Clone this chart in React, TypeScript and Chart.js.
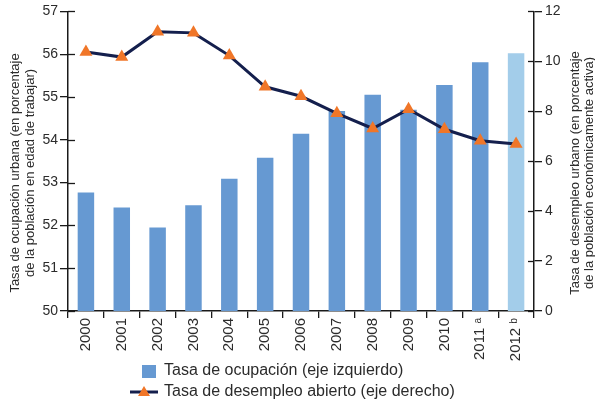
import React, { useEffect, useRef } from "react";
import { Chart, registerables } from "chart.js";

Chart.register(...registerables);

const categories = ["2000", "2001", "2002", "2003", "2004", "2005", "2006", "2007", "2008", "2009", "2010", "2011 ᵃ", "2012 ᵇ"];
const occupationRate = [52.77, 52.42, 51.95, 52.47, 53.09, 53.58, 54.14, 54.67, 55.05, 54.7, 55.28, 55.81, 56.02];
const unemploymentRate = [10.37, 10.17, 11.18, 11.14, 10.23, 8.98, 8.6, 7.92, 7.31, 8.08, 7.28, 6.82, 6.69];

const leftTicks = [50, 51, 52, 53, 54, 55, 56, 57];
const rightTicks = [0, 2, 4, 6, 8, 10, 12];

const seriesLabels = ["Tasa de ocupación (eje izquierdo)", "Tasa de desempleo abierto (eje derecho)"];
const leftTitle = ["Tasa de ocupación urbana (en porcentaje", "de la población en edad de trabajar)"];
const rightTitle = ["Tasa de desempleo urbano (en porcentaje", "de la población económicamente activa)"];

const FONT = "'Liberation Sans', Arial, sans-serif";
const BAR = "#6699d2";
const BAR_LIGHT = "#a3cdea";
const LINE = "#141f4d";
const MARK = "#f07628";
const AXIS = "#1a1a1a";
const TEXT = "#2b2b2b";

const extras = {
  id: "extras",
  afterDraw(chart: any) {
    const ctx = chart.ctx;
    const yL = chart.scales.yL;
    const yR = chart.scales.yR;
    ctx.save();
    ctx.strokeStyle = AXIS;
    ctx.lineWidth = 1.3;
    leftTicks.forEach((v) => {
      const y = Math.round(yL.getPixelForValue(v)) + 0.5;
      ctx.beginPath();
      ctx.moveTo(yL.right, y);
      ctx.lineTo(yL.right + 7, y);
      ctx.stroke();
    });
    rightTicks.forEach((v) => {
      const y = Math.round(yR.getPixelForValue(v)) + 0.5;
      ctx.beginPath();
      ctx.moveTo(yR.left - 6, y);
      ctx.lineTo(yR.left, y);
      ctx.stroke();
    });
    // axis titles
    ctx.fillStyle = TEXT;
    ctx.font = `13px ${FONT}`;
    ctx.textAlign = "center";
    ctx.textBaseline = "middle";
    const cy = 173;
    const drawTitle = (lines: string[], xs: number[]) => {
      lines.forEach((t, i) => {
        ctx.save();
        ctx.translate(xs[i], cy);
        ctx.rotate(-Math.PI / 2);
        ctx.fillText(t, 0, 0);
        ctx.restore();
      });
    };
    drawTitle(leftTitle, [15, 30]);
    drawTitle(rightTitle, [575, 589]);
    // legend
    ctx.font = `16px ${FONT}`;
    ctx.textAlign = "left";
    ctx.fillStyle = BAR;
    ctx.fillRect(142, 365, 14, 13);
    ctx.fillStyle = TEXT;
    ctx.fillText(seriesLabels[0], 164, 371);
    ctx.strokeStyle = LINE;
    ctx.lineWidth = 3;
    ctx.beginPath();
    ctx.moveTo(130, 392);
    ctx.lineTo(158, 392);
    ctx.stroke();
    ctx.fillStyle = MARK;
    ctx.beginPath();
    ctx.moveTo(144, 386);
    ctx.lineTo(150, 396);
    ctx.lineTo(138, 396);
    ctx.closePath();
    ctx.fill();
    ctx.fillStyle = TEXT;
    ctx.fillText(seriesLabels[1], 164, 392);
    ctx.restore();
  },
};

export default function App() {
  const ref = useRef<HTMLCanvasElement>(null);
  useEffect(() => {
    if (!ref.current) return;
    const chart = new Chart(ref.current, {
      type: "bar",
      data: {
        labels: categories,
        datasets: [
          {
            type: "line",
            label: seriesLabels[1],
            data: unemploymentRate,
            yAxisID: "yR",
            borderColor: LINE,
            borderWidth: 3,
            pointStyle: "triangle",
            pointRadius: 7.5,
            pointBackgroundColor: MARK,
            pointBorderColor: MARK,
            pointBorderWidth: 0,
            tension: 0,
            order: 0,
          } as any,
          {
            type: "bar",
            label: seriesLabels[0],
            data: occupationRate,
            yAxisID: "yL",
            backgroundColor: (c: any) => (c.dataIndex === categories.length - 1 ? BAR_LIGHT : BAR),
            categoryPercentage: 1,
            barPercentage: 0.46,
            order: 1,
          } as any,
        ],
      },
      options: {
        responsive: false,
        animation: false,
        layout: { padding: { top: 10, left: 0, right: 0, bottom: 0 } },
        plugins: { legend: { display: false }, tooltip: { enabled: false } },
        scales: {
          x: {
            offset: true,
            grid: { display: true, drawOnChartArea: false, drawTicks: true, tickLength: 7, color: AXIS, lineWidth: 1.3, offset: true },
            border: { display: true, color: AXIS, width: 1.5 },
            ticks: { minRotation: 90, maxRotation: 90, autoSkip: false, padding: 0, color: TEXT, font: { family: FONT, size: 15 } },
            afterFit: (s: any) => { s.height = 92; },
          },
          yL: {
            type: "linear",
            position: "left",
            min: 50,
            max: 57,
            grid: { display: true, drawOnChartArea: false, drawTicks: true, tickLength: 8, color: AXIS, lineWidth: 1.3 },
            border: { display: true, color: AXIS, width: 1.5 },
            ticks: { stepSize: 1, padding: 2, color: TEXT, font: { family: FONT, size: 14 } },
            afterFit: (s: any) => { s.width = 68; },
          },
          yR: {
            type: "linear",
            position: "right",
            min: 0,
            max: 12,
            grid: { display: true, drawOnChartArea: false, drawTicks: true, tickLength: 8, color: AXIS, lineWidth: 1.3 },
            border: { display: true, color: AXIS, width: 1.5 },
            ticks: { stepSize: 2, padding: 3, color: TEXT, font: { family: FONT, size: 14 } },
            afterFit: (s: any) => { s.width = 61; },
          },
        },
      },
      plugins: [extras],
    });
    return () => chart.destroy();
  }, []);
  return (
    <div style={{ position: "absolute", left: 0, top: 0, width: 595, height: 403, background: "#fff" }}>
      <canvas ref={ref} width={595} height={403} />
    </div>
  );
}
